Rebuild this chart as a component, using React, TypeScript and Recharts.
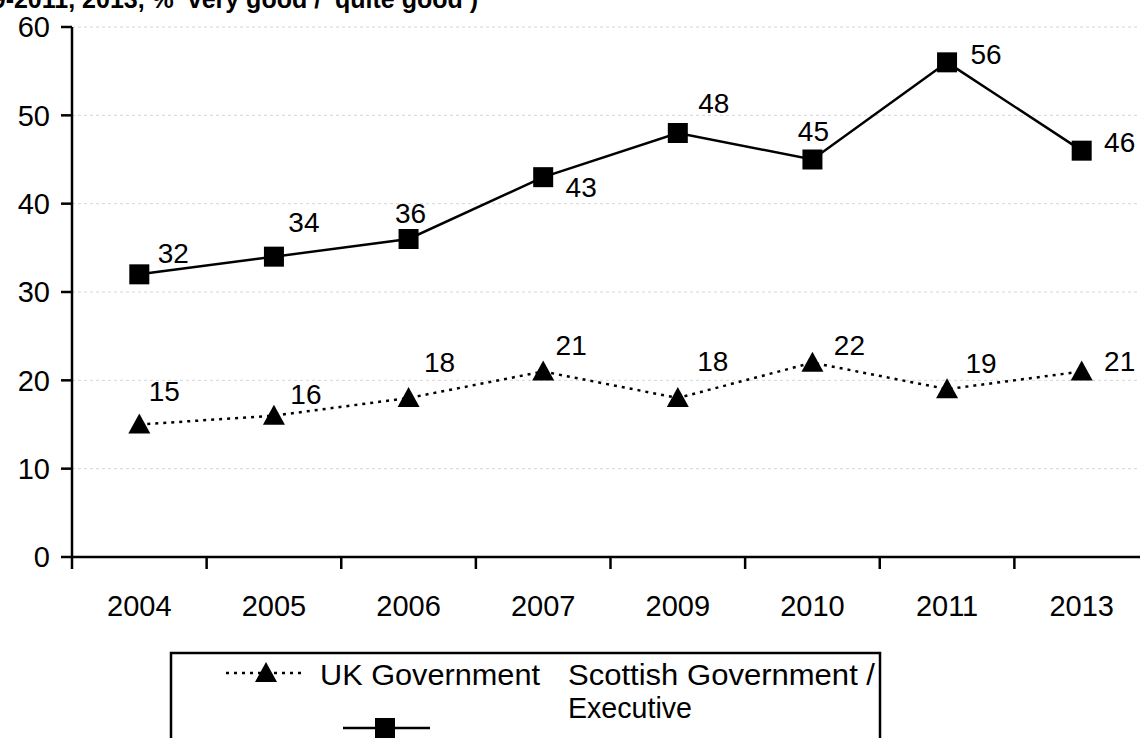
import React from "react";
import { LineChart, Line, XAxis, YAxis, CartesianGrid, LabelList } from "recharts";

// survey years and % saying 'very good' / 'quite good'
const years = ["2004", "2005", "2006", "2007", "2009", "2010", "2011", "2013"];
const ukGovernment = [15, 16, 18, 21, 18, 22, 19, 21];
const scottishGovernment = [32, 34, 36, 43, 48, 45, 56, 46];
const yTicks = [0, 10, 20, 30, 40, 50, 60];

// where each value label sits relative to its marker (dx, dy)
const scotLabelOffsets = [[34, -21], [30, -34], [2, -26], [38, 10], [36, -30], [1, -28], [39, -8], [38, -8]];
const ukLabelOffsets = [[25, -33], [32, -21], [31, -36], [28, -26], [35, -37], [37, -17], [34, -26], [38, -10]];

const data = years.map((year, i) => ({ year, uk: ukGovernment[i], scot: scottishGovernment[i] }));

const FONT = "'Liberation Sans', Arial, sans-serif";
const CHART_W = 1150;
const CHART_H = 738;
const Y_AXIS_W = 72;
const PLOT_TOP = 27;
const PLOT_BOTTOM = 557;
const X_AXIS_H = 60;
const PLOT_W = CHART_W - Y_AXIS_W - 1;
const BAND = PLOT_W / years.length;

const XTick = (props: any) => {
  const { x, payload } = props;
  const left = x - BAND / 2;
  return (
    <g>
      <line x1={left} x2={left} y1={PLOT_BOTTOM} y2={PLOT_BOTTOM + 12} stroke="#000" strokeWidth={2.5} />
      <text x={x} y={PLOT_BOTTOM + 49} textAnchor="middle" dominantBaseline="central"
        fontFamily={FONT} fontSize={29} fill="#000">
        {payload.value}
      </text>
    </g>
  );
};

const Square = (props: any) => {
  const { cx, cy } = props;
  if (cx == null || cy == null) return null;
  return <rect x={cx - 10} y={cy - 10} width={20} height={20} fill="#000" />;
};

const Triangle = (props: any) => {
  const { cx, cy } = props;
  if (cx == null || cy == null) return null;
  return <polygon points={`${cx},${cy - 11} ${cx + 11},${cy + 9} ${cx - 11},${cy + 9}`} fill="#000" />;
};

const makeLabel = (offsets: number[][]) => (props: any) => {
  const { x, y, value, index } = props;
  const [dx, dy] = offsets[index] || [0, -20];
  return (
    <text x={x + dx} y={y + dy} textAnchor="middle" dominantBaseline="central"
      fontFamily={FONT} fontSize={28} fill="#000">
      {value}
    </text>
  );
};

export default function App() {
  return (
    <div style={{ position: "absolute", left: 0, top: 0, width: 1140, height: 738, overflow: "hidden", background: "#fff" }}>
      <div style={{ position: "absolute", left: 0, top: 0 }}>
        <LineChart
          width={CHART_W}
          height={CHART_H}
          data={data}
          margin={{ top: PLOT_TOP, right: 1, left: 0, bottom: CHART_H - PLOT_BOTTOM - X_AXIS_H }}
        >
          <CartesianGrid vertical={false} stroke="#d6d6d6" strokeDasharray="3 3" />
          <XAxis
            dataKey="year"
            height={X_AXIS_H}
            padding={{ left: BAND / 2, right: BAND / 2 }}
            axisLine={{ stroke: "#000", strokeWidth: 2.5 }}
            tickLine={false}
            tick={<XTick />}
            interval={0}
          />
          <YAxis
            width={Y_AXIS_W}
            domain={[0, 60]}
            ticks={yTicks}
            interval={0}
            axisLine={{ stroke: "#000", strokeWidth: 2.5 }}
            tickLine={{ stroke: "#000", strokeWidth: 2.5 }}
            tickSize={11}
            tickMargin={11}
            tick={{ fill: "#000", fontSize: 29, fontFamily: FONT }}
          />
          <Line
            dataKey="uk"
            type="linear"
            stroke="#000"
            strokeWidth={2.5}
            strokeDasharray="3 5"
            dot={<Triangle />}
            activeDot={false}
            isAnimationActive={false}
          >
            <LabelList dataKey="uk" content={makeLabel(ukLabelOffsets)} />
          </Line>
          <Line
            dataKey="scot"
            type="linear"
            stroke="#000"
            strokeWidth={2.5}
            dot={<Square />}
            activeDot={false}
            isAnimationActive={false}
          >
            <LabelList dataKey="scot" content={makeLabel(scotLabelOffsets)} />
          </Line>
        </LineChart>
      </div>
      <svg width={1140} height={738} style={{ position: "absolute", left: 0, top: 0, pointerEvents: "none" }}>
        <text x={478} y={8} textAnchor="end" fontFamily={FONT} fontSize={25} fontWeight="bold" fill="#000">
          (1999-2011, 2013, % ‘very good’/ ‘quite good’)
        </text>
        <rect x={171} y={653} width={709} height={120} fill="#fff" stroke="#000" strokeWidth={2.5} />
        <line x1={226} x2={305} y1={673} y2={673} stroke="#000" strokeWidth={2.5} strokeDasharray="3 5" />
        <Triangle cx={266} cy={673} />
        <text x={320} y={674} dominantBaseline="central" fontFamily={FONT} fontSize={30} fill="#000"
          textLength={220} lengthAdjust="spacingAndGlyphs">UK Government</text>
        <text x={568} y={674} dominantBaseline="central" fontFamily={FONT} fontSize={30} fill="#000"
          textLength={307} lengthAdjust="spacingAndGlyphs">Scottish Government /</text>
        <text x={568} y={707} dominantBaseline="central" fontFamily={FONT} fontSize={30} fill="#000"
          textLength={124} lengthAdjust="spacingAndGlyphs">Executive</text>
        <line x1={343} x2={430} y1={728} y2={728} stroke="#000" strokeWidth={2.5} />
        <Square cx={385} cy={728} />
      </svg>
    </div>
  );
}
